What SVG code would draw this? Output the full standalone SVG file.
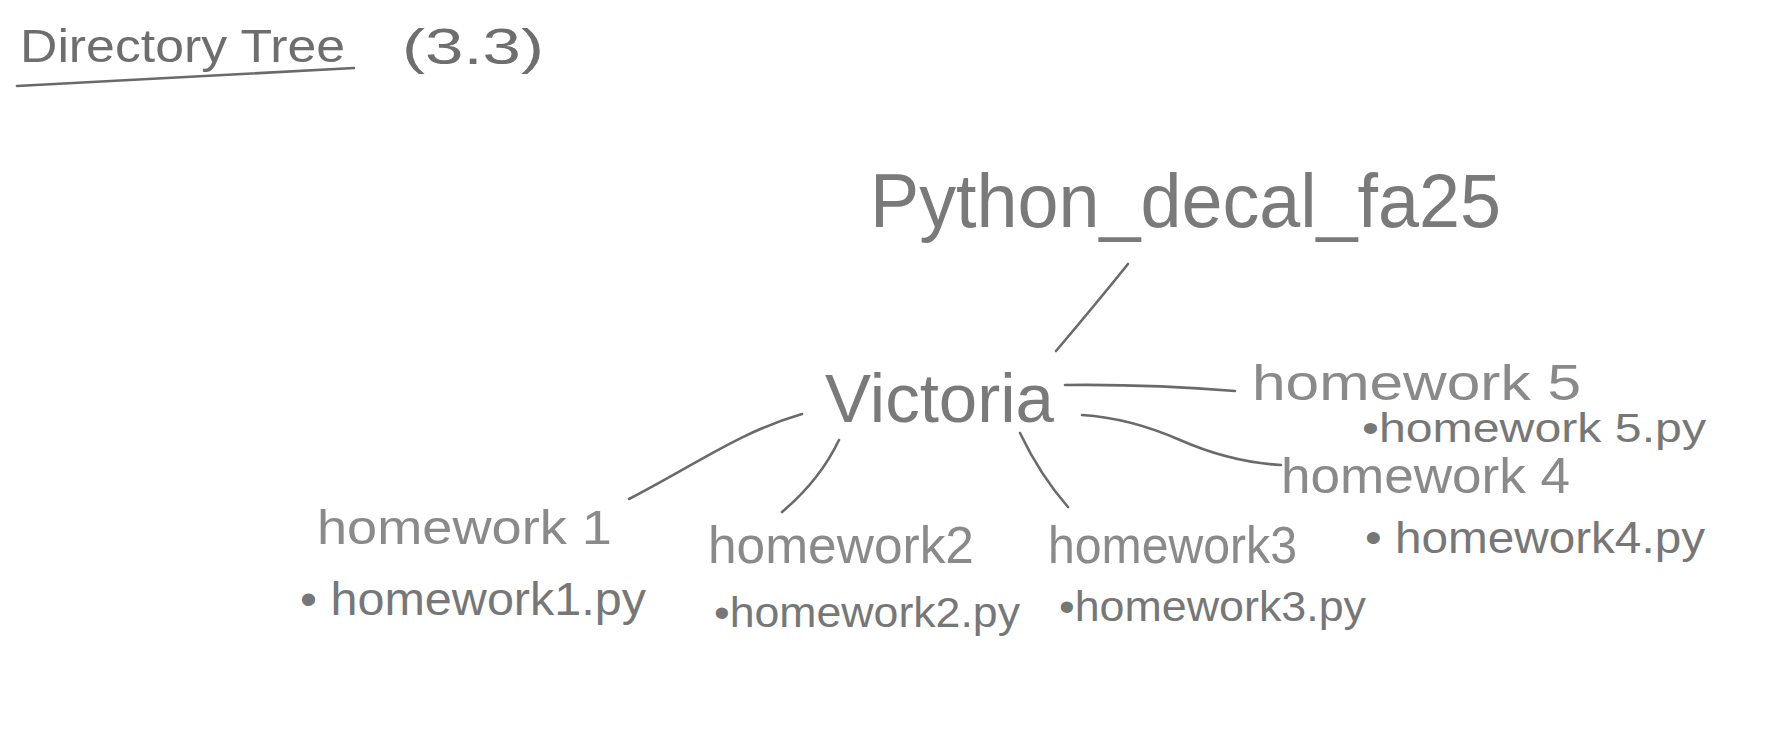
<svg xmlns="http://www.w3.org/2000/svg" width="1777" height="752" viewBox="0 0 1777 752">
<style>
text{font-family:"Liberation Sans","DejaVu Sans",sans-serif;fill:#7a7a7a;}
.t{fill:#6e6e6e}
.hw{fill:#8a8a8a}
.py{fill:#777}
.c{fill:none;stroke:#6a6a6a;stroke-width:2.6;stroke-linecap:round}
</style>
<rect width="1777" height="752" fill="#ffffff"/>
<g id="title">
<text class="t" x="20" y="62" font-size="46" textLength="325" lengthAdjust="spacingAndGlyphs">Directory Tree</text>
<text class="t" x="402" y="64" font-size="50" textLength="142" lengthAdjust="spacingAndGlyphs">(3.3)</text>
<path class="c" d="M17 86 L354 68" stroke-width="2"/>
</g>
<g id="connectors">
<path class="c" d="M1128 264 Q1095 305 1056 351"/>
<path class="c" d="M1065 385 Q1150 384 1235 391"/>
<path class="c" d="M1082 415 Q1130 418 1180 440 Q1230 462 1281 465"/>
<path class="c" d="M802 414 C740 432 700 462 629 499"/>
<path class="c" d="M839 440 Q820 480 782 512"/>
<path class="c" d="M1020 433 Q1040 475 1068 507"/>
</g>
<g id="root">
<text x="870" y="227" font-size="76" textLength="631" lengthAdjust="spacingAndGlyphs">Python_decal_fa25</text>
</g>
<g id="victoria">
<text x="825" y="422" font-size="68" textLength="229" lengthAdjust="spacingAndGlyphs">Victoria</text>
</g>
<g id="homework5">
<text class="hw" x="1252" y="400" font-size="50" textLength="329" lengthAdjust="spacingAndGlyphs">homework 5</text>
<text class="py" x="1362" y="442" font-size="40" textLength="344" lengthAdjust="spacingAndGlyphs">•homework 5.py</text>
</g>
<g id="homework4">
<text class="hw" x="1281" y="493" font-size="50" textLength="289" lengthAdjust="spacingAndGlyphs">homework 4</text>
<text class="py" x="1365" y="553" font-size="44" textLength="340" lengthAdjust="spacingAndGlyphs">• homework4.py</text>
</g>
<g id="homework1">
<text class="hw" x="317" y="544" font-size="48" textLength="295" lengthAdjust="spacingAndGlyphs">homework 1</text>
<text class="py" x="300" y="615" font-size="46" textLength="346" lengthAdjust="spacingAndGlyphs">• homework1.py</text>
</g>
<g id="homework2">
<text class="hw" x="708" y="563" font-size="52" textLength="266" lengthAdjust="spacingAndGlyphs">homework2</text>
<text class="py" x="714" y="627" font-size="42" textLength="306" lengthAdjust="spacingAndGlyphs">•homework2.py</text>
</g>
<g id="homework3">
<text class="hw" x="1048" y="563" font-size="52" textLength="249" lengthAdjust="spacingAndGlyphs">homework3</text>
<text class="py" x="1059" y="621" font-size="42" textLength="307" lengthAdjust="spacingAndGlyphs">•homework3.py</text>
</g>
</svg>
